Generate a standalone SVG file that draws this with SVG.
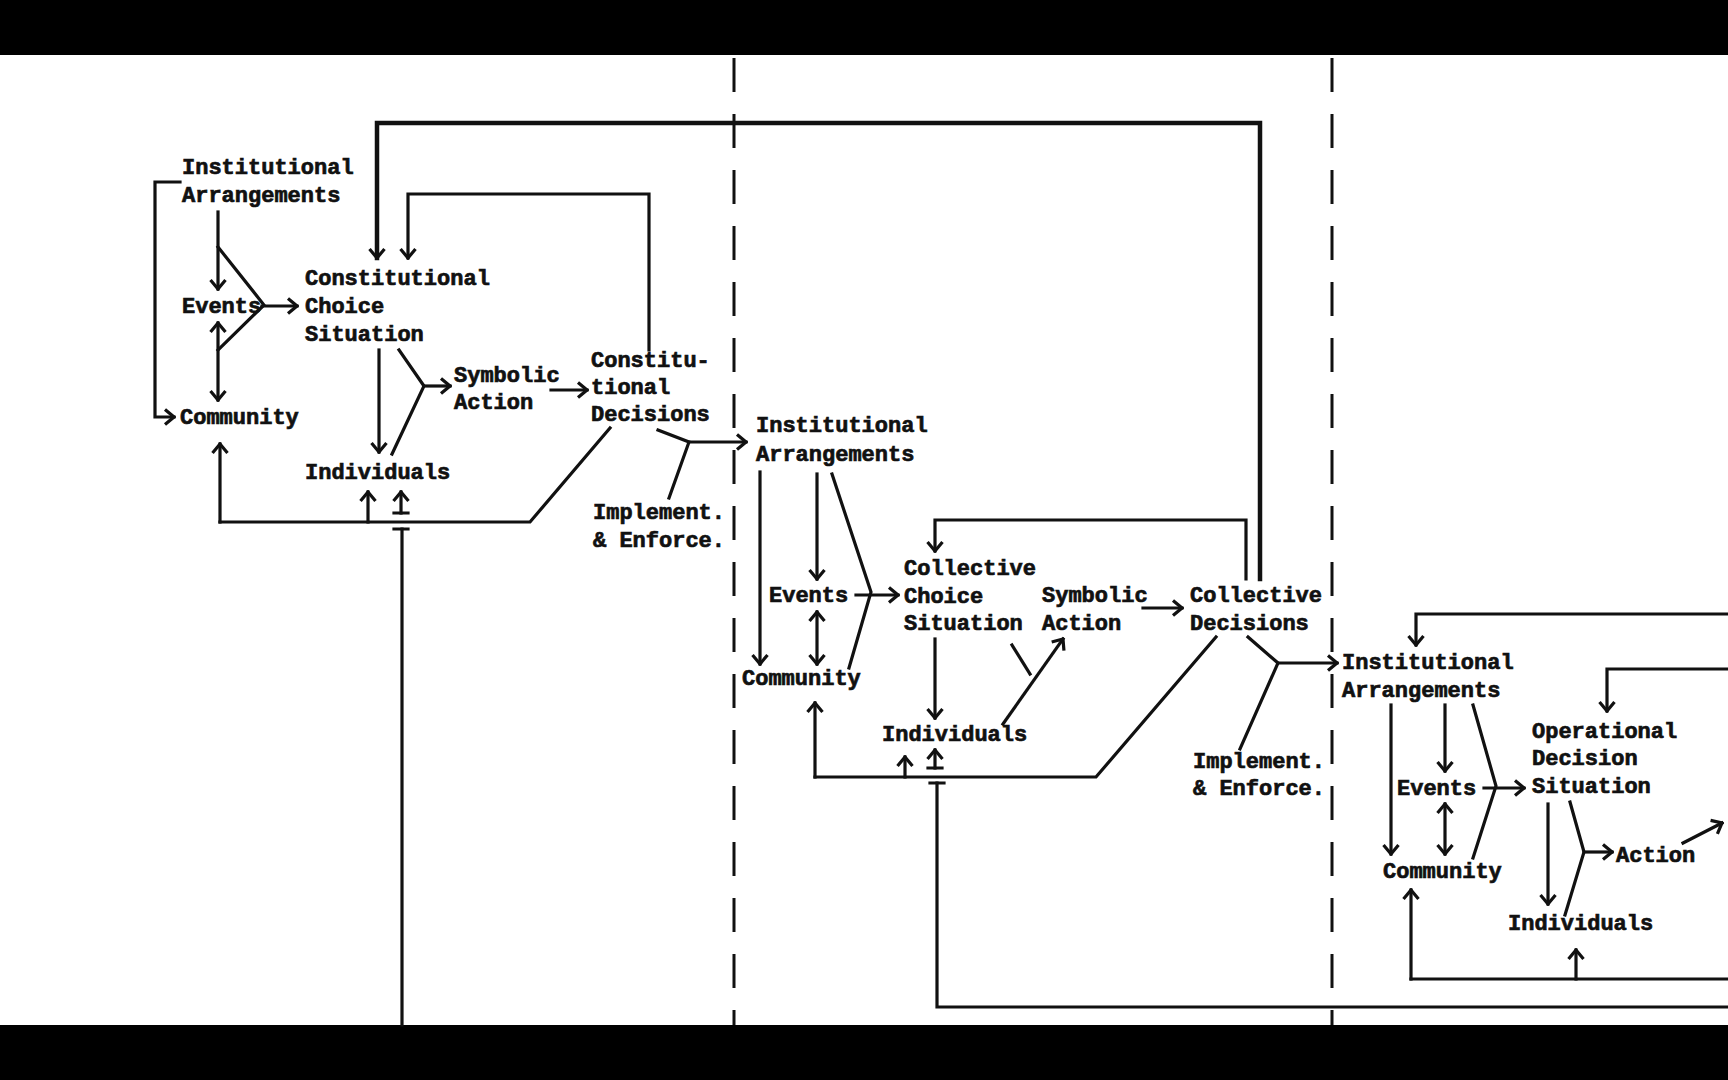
<svg xmlns="http://www.w3.org/2000/svg" width="1728" height="1080" viewBox="0 0 1728 1080">
<defs>
<style>
.t{font-family:"Liberation Mono","DejaVu Sans Mono",monospace;font-weight:bold;font-size:22px;fill:#111;stroke:#111;stroke-width:0.7}
.c{fill:none;stroke:#111;stroke-width:3.2;stroke-linecap:square;stroke-linejoin:miter}
.a{marker-end:url(#ah)}
.d{marker-start:url(#ah);marker-end:url(#ah)}
.dash{fill:none;stroke:#111;stroke-width:3;stroke-dasharray:34 22}
</style>
<marker id="ah" viewBox="-12 -10 14 20" refX="0" refY="0" markerWidth="14" markerHeight="20" orient="auto-start-reverse" markerUnits="userSpaceOnUse">
<path d="M-9,-7.5 L0,0 L-9,7.5" fill="none" stroke="#111" stroke-width="3.2"/>
</marker>
</defs>
<rect x="0" y="0" width="1728" height="1080" fill="#fff"/>
<rect x="0" y="0" width="1728" height="55" fill="#000"/>
<rect x="0" y="1025" width="1728" height="55" fill="#000"/>

<g id="dividers">
<line class="dash" x1="734" y1="58" x2="734" y2="1025"/>
<line class="dash" x1="1332" y1="58" x2="1332" y2="1025"/>
</g>

<g id="connectors">
<!-- Section 1 -->
<path class="c a" d="M180,182 H155 V417 H174"/>
<path class="c a" d="M218,212 V289"/>
<path class="c d" d="M218,323 V400"/>
<path class="c" d="M218,247 L264,305 L218,350"/>
<path class="c a" d="M262,306 H297"/>
<path class="c a" d="M1260,579 V123 H377 V258" style="stroke-width:4.5"/>
<path class="c a" d="M649,350 V194 H408 V258"/>
<path class="c a" d="M379,350 V452"/>
<path class="c" d="M399,350 L424,386 L392,454"/>
<path class="c a" d="M424,386 H450"/>
<path class="c a" d="M551,390 H587"/>
<path class="c" d="M658,430 L689,442 L669,498"/>
<path class="c a" d="M689,442 H746"/>
<path class="c" d="M610,428 L530,522 H220"/>
<path class="c a" d="M220,522 V444"/>
<path class="c a" d="M368,522 V492"/>
<path class="c a" d="M401,513 V492"/>
<path class="c" d="M394,513 H408 M394,529 H408"/>
<path class="c" d="M402,529 V1025"/>
<!-- Section 2 -->
<path class="c a" d="M760,472 V664"/>
<path class="c a" d="M817,474 V579"/>
<path class="c" d="M832,474 L871,592 L849,668"/>
<path class="c a" d="M856,595 H898"/>
<path class="c d" d="M817,612 V664"/>
<path class="c a" d="M1246,579 V520 H935 V551"/>
<path class="c a" d="M935,639 V718"/>
<path class="c" d="M1012,645 L1030,674"/>
<path class="c a" d="M1003,724 L1063,639"/>
<path class="c a" d="M1143,608 H1182"/>
<path class="c" d="M1216,637 L1096,777 H815"/>
<path class="c a" d="M815,777 V703"/>
<path class="c a" d="M905,777 V757"/>
<path class="c a" d="M935,768 V750"/>
<path class="c" d="M928,768 H942 M930,783 H944"/>
<path class="c" d="M937,783 V1007 H1728"/>
<path class="c" d="M1248,637 L1278,663 L1240,749"/>
<path class="c a" d="M1278,663 H1337"/>
<!-- Section 3 -->
<path class="c a" d="M1728,614 H1416 V645"/>
<path class="c a" d="M1728,669 H1607 V711"/>
<path class="c a" d="M1391,705 V854"/>
<path class="c a" d="M1445,705 V771"/>
<path class="c" d="M1473,705 L1496,786 L1473,858"/>
<path class="c a" d="M1484,788 H1524"/>
<path class="c d" d="M1445,804 V854"/>
<path class="c a" d="M1548,804 V904"/>
<path class="c" d="M1570,802 L1584,852 L1565,915"/>
<path class="c a" d="M1584,852 H1612"/>
<path class="c a" d="M1683,843 L1722,823"/>
<path class="c" d="M1728,979 H1411"/>
<path class="c a" d="M1411,979 V890"/>
<path class="c a" d="M1576,979 V950"/>
</g>

<g id="n1-institutional-arrangements"><text class="t" x="182" y="174">Institutional</text><text class="t" x="182" y="202">Arrangements</text></g>
<g id="n1-events"><text class="t" x="182" y="313">Events</text></g>
<g id="n1-community"><text class="t" x="180" y="424">Community</text></g>
<g id="n1-constitutional-choice"><text class="t" x="305" y="285">Constitutional</text><text class="t" x="305" y="313">Choice</text><text class="t" x="305" y="341">Situation</text></g>
<g id="n1-individuals"><text class="t" x="305" y="479">Individuals</text></g>
<g id="n1-symbolic-action"><text class="t" x="454" y="382">Symbolic</text><text class="t" x="454" y="409">Action</text></g>
<g id="n1-constitutional-decisions"><text class="t" x="591" y="367">Constitu-</text><text class="t" x="591" y="394">tional</text><text class="t" x="591" y="421">Decisions</text></g>
<g id="n1-implement"><text class="t" x="593" y="519">Implement.</text><text class="t" x="593" y="547">&amp; Enforce.</text></g>

<g id="n2-institutional-arrangements"><text class="t" x="756" y="432">Institutional</text><text class="t" x="756" y="461">Arrangements</text></g>
<g id="n2-events"><text class="t" x="769" y="602">Events</text></g>
<g id="n2-community"><text class="t" x="742" y="685">Community</text></g>
<g id="n2-collective-choice"><text class="t" x="904" y="575">Collective</text><text class="t" x="904" y="603">Choice</text><text class="t" x="904" y="630">Situation</text></g>
<g id="n2-individuals"><text class="t" x="882" y="741">Individuals</text></g>
<g id="n2-symbolic-action"><text class="t" x="1042" y="602">Symbolic</text><text class="t" x="1042" y="630">Action</text></g>
<g id="n2-collective-decisions"><text class="t" x="1190" y="602">Collective</text><text class="t" x="1190" y="630">Decisions</text></g>
<g id="n2-implement"><text class="t" x="1193" y="768">Implement.</text><text class="t" x="1193" y="795">&amp; Enforce.</text></g>

<g id="n3-institutional-arrangements"><text class="t" x="1342" y="669">Institutional</text><text class="t" x="1342" y="697">Arrangements</text></g>
<g id="n3-events"><text class="t" x="1397" y="795">Events</text></g>
<g id="n3-community"><text class="t" x="1383" y="878">Community</text></g>
<g id="n3-operational-decision"><text class="t" x="1532" y="738">Operational</text><text class="t" x="1532" y="765">Decision</text><text class="t" x="1532" y="793">Situation</text></g>
<g id="n3-action"><text class="t" x="1616" y="862">Action</text></g>
<g id="n3-individuals"><text class="t" x="1508" y="930">Individuals</text></g>
</svg>
